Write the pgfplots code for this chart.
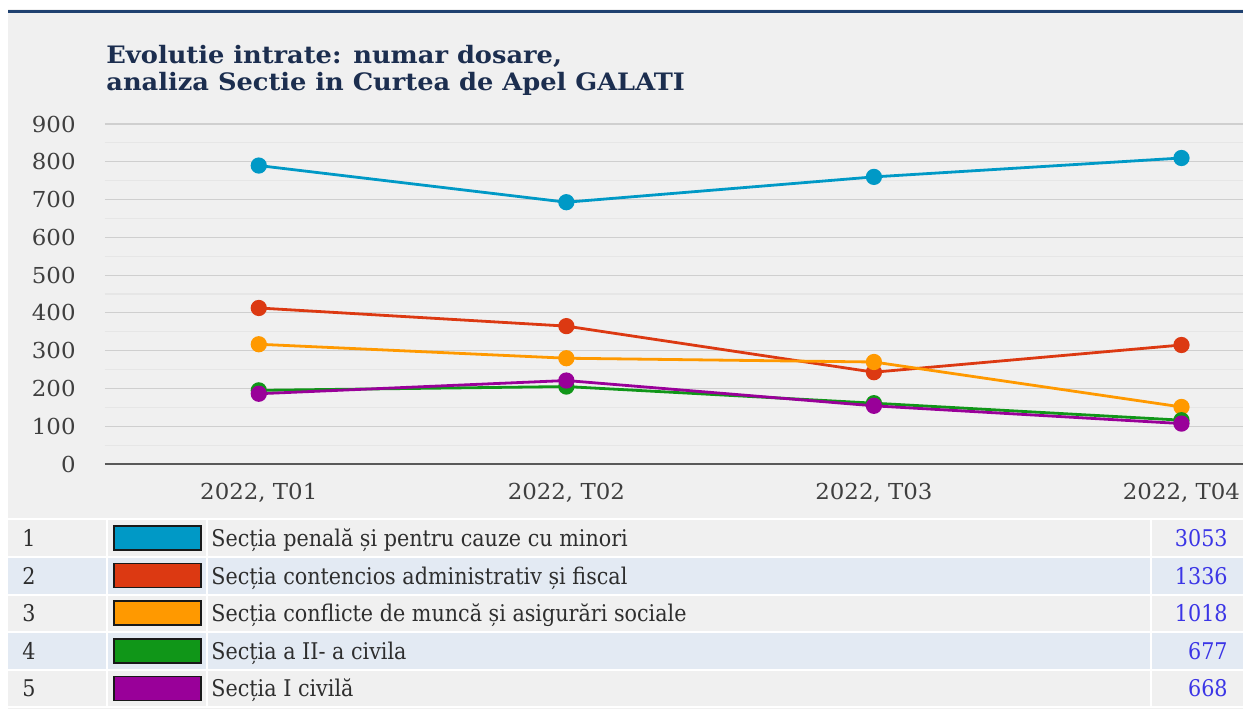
\documentclass[border=0pt]{standalone}
\usepackage{fontspec}
\setmainfont{DejaVu Serif}
\newfontfamily\tabfont[FakeStretch=0.9]{DejaVu Serif}
\newfontfamily\titlefont[FakeStretch=1.07]{DejaVu Serif}
\newfontfamily\tickfont[FakeStretch=1.04]{DejaVu Serif}
\usepackage{pgfplots}
\pgfplotsset{compat=1.18}
\definecolor{bg}{HTML}{F0F0F0}
\definecolor{rowblue}{HTML}{E3EAF3}
\definecolor{navy}{HTML}{1F4170}
\definecolor{titlec}{HTML}{1C2E4F}
\definecolor{tickc}{HTML}{3F3F3F}
\definecolor{txt}{HTML}{2E2E2E}
\definecolor{numc}{HTML}{3B35E6}
\definecolor{gmaj}{HTML}{CFCFCF}
\definecolor{gmin}{HTML}{E6E6E6}
\definecolor{sBlue}{HTML}{0099C6}
\definecolor{sRed}{HTML}{DC3912}
\definecolor{sOrange}{HTML}{FF9900}
\definecolor{sGreen}{HTML}{109618}
\definecolor{sPurple}{HTML}{990099}

\begin{document}
\begin{tikzpicture}
\useasboundingbox (0,0) rectangle (621.5pt,354.5pt);
% pixel coordinates of the reference, y downwards
\begin{scope}[x=0.5pt, y=-0.5pt, shift={(0,354.5pt)}]
  \fill[bg] (8,9) rectangle (1243,709);
  \draw[navy, line width=1.5pt] (8,11.5) -- (1243,11.5);
  \node[anchor=base west, inner sep=0, text=titlec, font=\titlefont\fontsize{12pt}{14pt}\selectfont\bfseries]
    at (106,63) {Evolutie intrate: numar dosare,};
  \node[anchor=base west, inner sep=0, text=titlec, font=\titlefont\fontsize{12pt}{14pt}\selectfont\bfseries]
    at (106,91) {analiza Sectie in Curtea de Apel GALATI};
  % legend table
  \fill[rowblue] (8,557) rectangle (1243,595);
  \fill[rowblue] (8,632) rectangle (1243,670);
  \foreach \yy in {519,557,595,632,670,707}
    \draw[white, line width=0.9pt] (8,\yy) -- (1243,\yy);
  \foreach \xx in {107,207,1151}
    \draw[white, line width=0.9pt] (\xx,519) -- (\xx,707);
\end{scope}

\begin{axis}[
  at={(52.5pt,122.5pt)}, anchor=south west,
  scale only axis, width=569pt, height=170pt,
  xmin=0.5, xmax=4.2, ymin=0, ymax=900,
  axis lines*=left,
  y axis line style={draw=none},
  x axis line style={color=black!65, line width=1pt},
  xtick={1,2,3,4},
  xticklabels={{2022, T01},{2022, T02},{2022, T03},{2022, T04}},
  ytick={0,100,...,900},
  minor ytick={50,150,...,850},
  ymajorgrids, yminorgrids,
  major grid style={color=gmaj, line width=0.6pt},
  minor grid style={color=gmin, line width=0.6pt},
  tick style={draw=none},
  /pgf/number format/assume math mode=true,
  ticklabel style={font=\tickfont\fontsize{11pt}{13pt}\selectfont, text=tickc, inner sep=0pt},
  yticklabel style={anchor=east, xshift=-14.5pt},
  xticklabel style={anchor=north, yshift=-9.5pt},
  every axis plot/.append style={line width=1.4pt, mark=*, mark size=3.35pt,
    mark options={xscale=1.35, solid}},
]
\addplot[sBlue, mark options={fill=sBlue}] coordinates {(1,790)(2,693)(3,760)(4,810)};
\addplot[sRed, mark options={fill=sRed}] coordinates {(1,413)(2,365)(3,243)(4,315)};
\addplot[sOrange, mark options={fill=sOrange}] coordinates {(1,317)(2,280)(3,270)(4,151)};
\addplot[sGreen, mark options={fill=sGreen}] coordinates {(1,195)(2,205)(3,161)(4,116)};
\addplot[sPurple, mark options={fill=sPurple}] coordinates {(1,186)(2,221)(3,154)(4,107)};
\end{axis}

\begin{scope}[x=0.5pt, y=-0.5pt, shift={(0,354.5pt)},
  every node/.style={inner sep=0, font=\tabfont\fontsize{11.5pt}{13pt}\selectfont}]
  \foreach \n/\c/\lab/\tot [count=\i from 0] in {
      1/sBlue/{Secția penală și pentru cauze cu minori}/3053,
      2/sRed/{Secția contencios administrativ și fiscal}/1336,
      3/sOrange/{Secția conflicte de muncă și asigurări sociale}/1018,
      4/sGreen/{Secția a II- a civila}/677,
      5/sPurple/{Secția I civilă}/668} {
    \pgfmathsetmacro\yc{538+37.6*\i}
    \filldraw[fill=\c, draw=black!90, line width=0.75pt] (114,\yc-12) rectangle (201,\yc+12);
    \node[anchor=base west, text=txt] at (22,\yc+8.5) {\n};
    \node[anchor=base west, text=txt] at (211,\yc+8.5) {\lab};
    \node[anchor=base east, text=numc] at (1228,\yc+8.5) {\tot};
  }
\end{scope}
\end{tikzpicture}
\end{document}
